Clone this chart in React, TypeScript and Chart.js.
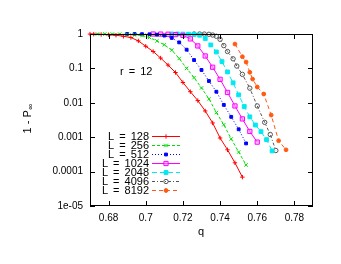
import React, { useEffect, useRef } from 'react';
import { Chart, registerables } from 'chart.js';
import { drawPoint } from 'chart.js/helpers';

Chart.register(...registerables);

// ---- data ----
const seriesLabels = ['L = 128', 'L = 256', 'L = 512', 'L = 1024', 'L = 2048', 'L = 4096', 'L = 8192'];

const q128 = [0.670, 0.672, 0.676, 0.680, 0.684, 0.688, 0.692, 0.696, 0.700, 0.704, 0.708, 0.712, 0.716, 0.720, 0.724, 0.728, 0.732, 0.736, 0.740, 0.744, 0.748, 0.752];
const v128 = [0.995, 0.99, 0.97, 0.95, 0.92, 0.86, 0.79, 0.63, 0.44, 0.31, 0.20, 0.125, 0.076, 0.039, 0.021, 0.0116, 0.0058, 0.0026, 0.00095, 0.00043, 0.00018, 0.000069];

const q256 = [0.674, 0.678, 0.682, 0.686, 0.690, 0.694, 0.698, 0.702, 0.706, 0.710, 0.714, 0.718, 0.722, 0.726, 0.730, 0.734, 0.738, 0.742, 0.746, 0.750, 0.754];
const v256 = [1.0, 1.0, 0.995, 0.99, 0.97, 0.94, 0.90, 0.79, 0.63, 0.485, 0.34, 0.194, 0.10, 0.054, 0.027, 0.013, 0.0052, 0.0023, 0.00089, 0.00037, 0.000156];

const q512 = [0.690, 0.694, 0.698, 0.702, 0.706, 0.710, 0.714, 0.718, 0.722, 0.726, 0.730, 0.734, 0.738, 0.742, 0.746, 0.750, 0.754];
const v512 = [1.0, 0.995, 0.99, 0.98, 0.955, 0.90, 0.77, 0.57, 0.35, 0.175, 0.090, 0.043, 0.021, 0.0087, 0.0039, 0.0017, 0.00066];

const q1024 = [0.704, 0.708, 0.712, 0.716, 0.720, 0.724, 0.728, 0.732, 0.736, 0.740, 0.744, 0.748, 0.752, 0.756, 0.760];
const v1024 = [1.0, 0.995, 0.985, 0.96, 0.91, 0.72, 0.45, 0.23, 0.108, 0.048, 0.020, 0.0081, 0.0034, 0.00147, 0.00072];

const q2048 = [0.714, 0.717, 0.720, 0.723, 0.726, 0.729, 0.732, 0.735, 0.738, 0.741, 0.744, 0.747, 0.750, 0.753, 0.756, 0.759, 0.762, 0.765, 0.768];
const v2048 = [1.0, 1.0, 0.995, 0.985, 0.97, 0.92, 0.74, 0.48, 0.30, 0.158, 0.079, 0.038, 0.017, 0.0078, 0.0039, 0.00226, 0.00145, 0.00085, 0.00040];

const q4096 = [0.726, 0.729, 0.7315, 0.734, 0.736, 0.738, 0.740, 0.742, 0.744, 0.747, 0.749, 0.752, 0.756, 0.760, 0.764, 0.767, 0.770];
const v4096 = [1.0, 1.0, 0.995, 0.98, 0.935, 0.86, 0.70, 0.46, 0.31, 0.19, 0.117, 0.067, 0.0266, 0.0081, 0.0027, 0.0012, 0.00041];

const q8192 = [0.748, 0.752, 0.754, 0.756, 0.7575, 0.760, 0.7635, 0.7675, 0.7715, 0.7755];
const v8192 = [0.51, 0.219, 0.153, 0.077, 0.049, 0.0288, 0.018, 0.0044, 0.00079, 0.00043];

const xTickValues = [0.68, 0.7, 0.72, 0.74, 0.76, 0.78];
const xTickLabels = ['0.68', '0.7', '0.72', '0.74', '0.76', '0.78'];
const yTickValues = [1, 0.1, 0.01, 0.001, 0.0001, 0.00001];
const yTickLabels = ['1', '0.1', '0.01', '0.001', '0.0001', '1e-05'];

const xTitle = 'q';
const yTitleMain = '1 - P';
const yTitleSub = '\u221E';
const annotation = 'r = 12';

const FONT = "'Liberation Sans', Arial, sans-serif";

export default function App() {
  const ref = useRef<HTMLCanvasElement>(null);

  useEffect(() => {
    const canvas = ref.current!;
    const ctx = canvas.getContext('2d')!;
    const mk = (qs: number[], vs: number[]) => qs.map((q, i) => ({ x: q, y: vs[i] }));

    const styles = [
      { color: '#ff0000', dash: [], ps: 'cross', r: 2.2, fill: '#ff0000' },
      { color: '#00dd00', dash: [3, 2], ps: 'crossRot', r: 2.4, fill: '#00dd00' },
      { color: '#0000ff', dash: [1, 2], ps: 'rect', r: 2, fill: '#0000ff' },
      { color: '#ff00ff', dash: [], ps: 'rect', r: 3, fill: 'rgba(255,150,255,0.5)' },
      { color: '#00e8f0', dash: [5, 3], ps: 'rect', r: 2.7, fill: '#00e8f0' },
      { color: '#555555', dash: [3, 2, 1, 2], ps: 'circle', r: 2.2, fill: 'rgba(0,0,0,0)' },
      { color: '#ff5a10', dash: [4, 3], ps: 'circle', r: 1.9, fill: '#ff5a10' },
    ];
    const qs = [q128, q256, q512, q1024, q2048, q4096, q8192];
    const vs = [v128, v256, v512, v1024, v2048, v4096, v8192];

    const datasets = styles.map((s, i) => ({
      label: seriesLabels[i],
      data: mk(qs[i], vs[i]),
      borderColor: s.color,
      backgroundColor: s.fill,
      borderWidth: 1,
      borderDash: s.dash,
      pointStyle: s.ps,
      pointRadius: s.r,
      pointBorderColor: s.color,
      pointBackgroundColor: s.fill,
      pointBorderWidth: 1,
      showLine: true,
      fill: false,
      tension: 0,
      clip: false as any,
    }));

    const gnu = {
      id: 'gnu',
      afterDraw(chart: any) {
        const c = chart.ctx as CanvasRenderingContext2D;
        const { left, right, top, bottom } = chart.chartArea;
        const xs = chart.scales.x;
        const ys = chart.scales.y;
        c.save();
        c.strokeStyle = '#000';
        c.lineWidth = 1;
        c.setLineDash([]);
        c.strokeRect(left + 0.5, top + 0.5, right - left - 1, bottom - top - 1);
        c.beginPath();
        xTickValues.forEach((v) => {
          const px = Math.round(xs.getPixelForValue(v)) + 0.5;
          c.moveTo(px, bottom);
          c.lineTo(px, bottom - 5);
          c.moveTo(px, top);
          c.lineTo(px, top + 5);
        });
        yTickValues.forEach((v) => {
          const py = Math.round(ys.getPixelForValue(v)) + 0.5;
          c.moveTo(left, py);
          c.lineTo(left + 5, py);
          c.moveTo(right, py);
          c.lineTo(right - 5, py);
        });
        c.stroke();

        c.fillStyle = '#000';
        c.font = `11px ${FONT}`;
        (c as any).wordSpacing = '2px';
        c.textBaseline = 'middle';
        c.textAlign = 'left';
        c.fillText(annotation, 120, 72);

        // legend
        const rowY0 = 136;
        const rowStep = 9.05;
        chart.data.datasets.forEach((ds: any, i: number) => {
          const y = rowY0 + i * rowStep;
          c.fillStyle = '#000';
          c.textAlign = 'right';
          c.textBaseline = 'middle';
          c.font = `11px ${FONT}`;
          c.fillText(ds.label, 149, y + 0.5);
          c.strokeStyle = ds.borderColor;
          c.lineWidth = 1;
          c.setLineDash(ds.borderDash || []);
          c.beginPath();
          c.moveTo(152, Math.round(y) + 0.5);
          c.lineTo(180, Math.round(y) + 0.5);
          c.stroke();
          c.setLineDash([]);
          c.fillStyle = ds.pointBackgroundColor;
          c.strokeStyle = ds.pointBorderColor;
          drawPoint(c, { pointStyle: ds.pointStyle, radius: ds.pointRadius, rotation: 0, borderWidth: 1 } as any, 166, Math.round(y) + 0.5);
        });
        (c as any).wordSpacing = '0px';

        // axis titles
        c.fillStyle = '#000';
        c.font = `11px ${FONT}`;
        c.textAlign = 'center';
        c.textBaseline = 'alphabetic';
        c.fillText(xTitle, 201, 235);

        c.translate(28, 119);
        c.rotate(-Math.PI / 2);
        c.font = `11px ${FONT}`;
        const w1 = c.measureText(yTitleMain).width;
        c.font = `8px ${FONT}`;
        const w2 = c.measureText(yTitleSub).width;
        const start = -(w1 + w2) / 2;
        c.textAlign = 'left';
        c.textBaseline = 'middle';
        c.font = `11px ${FONT}`;
        c.fillText(yTitleMain, start, 0);
        c.font = `8px ${FONT}`;
        c.fillText(yTitleSub, start + w1 + 0.5, 3);
        c.restore();
      },
    };

    const chart = new Chart(ctx, {
      type: 'line',
      data: { datasets: datasets as any },
      options: {
        responsive: false,
        animation: false,
        devicePixelRatio: 1,
        layout: { padding: { left: 0, right: 28, top: 34, bottom: 0 } },
        plugins: { legend: { display: false }, tooltip: { enabled: false } },
        scales: {
          x: {
            type: 'linear',
            min: 0.67,
            max: 0.79,
            grid: { display: false, drawTicks: false },
            border: { display: false },
            ticks: {
              autoSkip: false,
              maxRotation: 0,
              padding: 6,
              color: '#000',
              font: { family: FONT, size: 10 },
              callback: (v: any) => {
                const i = xTickValues.findIndex((t) => Math.abs(t - Number(v)) < 1e-9);
                return i >= 0 ? xTickLabels[i] : '';
              },
            },
            afterBuildTicks: (s: any) => {
              s.ticks = xTickValues.map((v) => ({ value: v }));
            },
            afterFit: (s: any) => {
              s.height = 58;
            },
          },
          y: {
            type: 'logarithmic',
            min: 0.00001,
            max: 1,
            grid: { display: false, drawTicks: false },
            border: { display: false },
            ticks: {
              autoSkip: false,
              padding: 7,
              color: '#000',
              font: { family: FONT, size: 10 },
              callback: (v: any) => {
                const i = yTickValues.findIndex((t) => Math.abs(Math.log10(t) - Math.log10(Number(v))) < 1e-6);
                return i >= 0 ? yTickLabels[i] : '';
              },
            },
            afterBuildTicks: (s: any) => {
              s.ticks = yTickValues.map((v) => ({ value: v }));
            },
            afterFit: (s: any) => {
              s.width = 90;
            },
          },
        },
      },
      plugins: [gnu],
    });

    return () => chart.destroy();
  }, []);

  return (
    <div style={{ position: 'fixed', left: 0, top: 0, width: 341, height: 264, background: '#fff' }}>
      <canvas ref={ref} width={341} height={264} style={{ display: 'block', width: 341, height: 264 }} />
    </div>
  );
}
